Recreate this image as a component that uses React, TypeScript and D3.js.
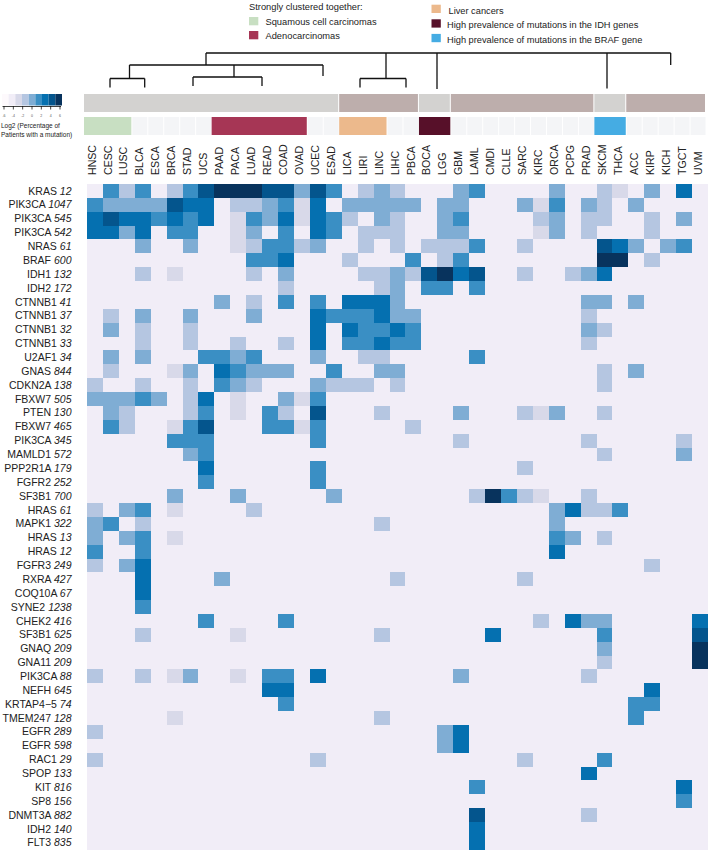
import React from "react";
import * as d3 from "d3";

const cancers = ["HNSC","CESC","LUSC","BLCA","ESCA","BRCA","STAD","UCS","PAAD","PACA","LUAD","READ","COAD","OVAD","UCEC","ESAD","LICA","LIRI","LINC","LIHC","PBCA","BOCA","LGG","GBM","LAML","CMDI","CLLE","SARC","KIRC","ORCA","PCPG","PRAD","SKCM","THCA","ACC","KIRP","KICH","TGCT","UVM"];

const genes = ["KRAS","PIK3CA","PIK3CA","PIK3CA","NRAS","BRAF","IDH1","IDH2","CTNNB1","CTNNB1","CTNNB1","CTNNB1","U2AF1","GNAS","CDKN2A","FBXW7","PTEN","FBXW7","PIK3CA","MAMLD1","PPP2R1A","FGFR2","SF3B1","HRAS","MAPK1","HRAS","HRAS","FGFR3","RXRA","COQ10A","SYNE2","CHEK2","SF3B1","GNAQ","GNA11","PIK3CA","NEFH","KRTAP4\u22125","TMEM247","EGFR","EGFR","RAC1","SPOP","KIT","SP8","DNMT3A","IDH2","FLT3"];
const codons = ["12","1047","545","542","61","600","132","172","41","37","32","33","34","844","138","505","130","465","345","572","179","252","700","61","322","13","12","249","427","67","1238","416","625","209","209","88","645","74","128","289","598","29","133","816","156","882","140","835"];

// Each row lists "column:level" for cells above the background level.
const rowLevels = [
  "1:4 2:2 3:4 5:2 6:4 7:6 8:7 9:7 10:7 11:6 12:6 13:3 14:6 15:4 17:2 18:3 19:2 23:3 24:4 29:3 32:2 33:1 35:3 37:5",
  "0:4 1:3 2:3 3:3 4:3 5:6 6:5 7:5 9:2 10:2 11:3 12:4 13:1 14:5 16:3 17:3 18:3 19:3 20:3 22:3 23:3 27:3 28:1 29:4 31:3 32:2 34:3",
  "0:5 1:6 2:5 3:5 4:4 5:5 6:4 7:5 9:1 10:4 11:3 12:5 13:1 14:5 15:4 16:2 18:3 19:2 22:3 23:4 28:2 29:3 31:2 32:2 35:2 37:3",
  "0:5 1:5 2:3 3:5 5:4 6:4 9:1 10:3 12:4 14:5 15:4 17:2 18:2 19:2 22:3 23:3 28:1 29:3 31:2 35:2",
  "3:3 6:3 9:1 10:2 11:4 12:4 13:2 14:3 17:2 19:2 21:2 22:2 23:2 24:4 27:2 32:6 33:5 34:3 36:3 37:4",
  "10:4 11:4 12:5 16:2 20:4 22:2 23:4 32:7 33:7 35:2",
  "3:2 5:1 10:2 12:3 17:2 18:2 19:3 20:2 21:6 22:7 23:5 24:6 27:2 30:2 31:3 32:5",
  "12:2 18:2 19:3 21:4 22:4 24:4",
  "8:3 10:2 12:4 14:4 16:5 17:5 18:5 19:3 31:3 32:3 34:3",
  "1:2 3:3 6:3 10:3 14:5 15:4 16:4 17:4 18:5 19:3 20:3 31:2",
  "1:3 3:2 6:2 14:5 16:5 17:4 18:4 19:5 20:4 31:3 32:2",
  "3:2 6:2 9:2 12:2 14:5 16:4 17:4 18:5 19:4 20:4 31:2",
  "1:3 3:3 7:4 8:4 9:3 10:4 14:3 17:2 18:2 24:4",
  "1:2 5:1 6:3 8:5 9:4 10:3 11:3 12:3 15:4 18:3 19:3 32:2 34:3",
  "0:2 3:2 6:2 8:4 9:3 10:2 14:3 15:2 16:2 17:2 19:2 32:2",
  "0:3 1:3 2:3 3:4 4:3 6:2 7:5 9:1 12:3 13:1 14:4",
  "1:3 2:2 6:2 7:4 9:1 11:4 12:2 14:6 18:2 23:3 27:2 28:1 29:3 32:2",
  "1:4 2:2 5:1 6:4 7:6 11:4 12:4 13:1 14:4 20:2",
  "5:4 6:4 7:4 14:4 23:2 31:2 37:2",
  "6:3 7:4 32:2 37:3",
  "7:5 14:4 27:2",
  "7:4 14:4",
  "5:3 9:3 15:3 24:2 25:7 26:4 27:2 28:1 31:2",
  "0:2 2:3 3:4 5:1 10:2 29:3 30:5 31:2 32:2 33:4",
  "0:3 1:4 3:2 18:2 29:3",
  "0:3 2:3 3:4 5:1 29:4 30:3 32:2",
  "0:4 3:4 29:5",
  "0:2 2:3 3:5 35:2",
  "3:5 8:3 19:2 27:2",
  "3:5",
  "3:4",
  "7:4 12:4 28:2 30:5 31:3 32:3 38:5",
  "3:2 9:1 18:2 25:5 32:4 38:6",
  "32:3 38:7",
  "32:2 38:7",
  "0:2 3:2 5:1 6:3 9:1 11:4 12:4 14:5 23:3 31:2",
  "11:5 12:5 35:5",
  "12:4 34:4 35:4",
  "5:1 18:2 34:4",
  "0:2 22:3 23:5",
  "22:3 23:5",
  "0:2 14:2 27:2 32:4",
  "31:5",
  "24:4 37:5",
  "37:4",
  "24:6 31:2",
  "24:5",
  "24:5",
];

const levelColors = ["#f1edf7","#d8d9e9","#b5c6e1","#7fadd4","#3a8fc4","#0570b0","#04558d","#08335d"];
const levelKeys = [0,1,2,3,4,5,6,7];
const legendSwatches = ["#fdf9fc","#f1edf7","#d8d9e9","#b5c6e1","#7fadd4","#3a8fc4","#0570b0","#04558d","#08335d"];
const legendTicks = ["-6","-4","-2","0","2","4","6"];

const clusterBands: [number, number, string][] = [[0,15,"#d3d2d0"],[16,20,"#bdaeac"],[21,22,"#d3d2d0"],[23,31,"#bdaeac"],[32,33,"#d3d2d0"],[34,38,"#bdaeac"]];
const typeBands: [number, number, string][] = [[0,2,"#c8dfc2"],[8,13,"#a63655"],[16,18,"#ecb98c"],[21,22,"#571029"],[32,33,"#45ace3"]];

const legendLeft = [["Squamous cell carcinomas","#c8dfc2"],["Adenocarcinomas","#a63655"]];
const legendRight = [["Liver cancers","#ecb98c"],["High prevalence of mutations in the IDH genes","#571029"],["High prevalence of mutations in the BRAF gene","#45ace3"]];

const font = "'Liberation Sans', Arial, sans-serif";
const textColor = "#222";

export default function App() {
  const idx = d3.range(cancers.length);
  const x = d3.scaleBand<number>().domain(idx).range([87, 708]);
  const xTop = d3.scaleBand<number>().domain(idx).range([84, 706]);
  const y = d3.scaleBand<number>().domain(d3.range(genes.length)).range([184, 849.8]);
  const color = d3.scaleOrdinal<number, string>().domain(levelKeys).range(levelColors);
  const legendX = d3.scaleBand<number>().domain(d3.range(legendSwatches.length)).range([2, 62]);
  const tickX = d3.scalePoint<number>().domain(d3.range(legendTicks.length)).range([4, 60]);

  const cells = rowLevels.flatMap((row, r) =>
    row.split(" ").map((s) => {
      const [c, l] = s.split(":").map(Number);
      return { r, c, l };
    })
  );

  const inType = (c: number) => typeBands.some(([a, b]) => c >= a && c <= b);

  const dendro = d3.path();
  const seg = (x1: number, y1: number, x2: number, y2: number) => { dendro.moveTo(x1, y1); dendro.lineTo(x2, y2); };
  seg(206, 53, 670.7, 53); seg(670.7, 53, 670.7, 65);
  seg(206, 53, 206, 65); seg(129.5, 65, 323, 65); seg(323, 65, 323, 76);
  seg(129.5, 65, 129.5, 78.5); seg(110, 78.5, 144.7, 78.5); seg(110, 78.5, 110, 87.5); seg(144.7, 78.5, 144.7, 87.5);
  seg(234, 65, 234, 77); seg(193, 77, 262, 77); seg(193, 77, 193, 86); seg(262, 77, 262, 86);
  seg(386, 53, 386, 78.5); seg(360, 78.5, 406, 78.5); seg(360, 78.5, 360, 87.5); seg(406, 78.5, 406, 87.5);
  seg(437, 53, 437, 89); seg(607, 53, 607, 88.5);

  return (
    <svg width={709} height={850} style={{ position: "absolute", left: 0, top: 0, background: "#fff" }} fontFamily={font}>
      <text x={249} y={9.5} fontSize={9.3} fill={textColor}>Strongly clustered together:</text>
      {legendLeft.map(([t, c], i) => (
        <g key={t}>
          <rect x={249} y={17 + i * 14} width={9.3} height={8.3} fill={c} />
          <text x={265.5} y={25 + i * 14} fontSize={9.3} fill={textColor}>{t}</text>
        </g>
      ))}
      {legendRight.map(([t, c], i) => (
        <g key={t}>
          <rect x={431.5} y={4.7 + i * 14.6} width={9.3} height={8.3} fill={c} />
          <text x={i === 0 ? 448.5 : 447} y={13.5 + i * 14.6} fontSize={9.25} fill={textColor}>{t}</text>
        </g>
      ))}

      <path d={dendro.toString()} fill="none" stroke="#111" strokeWidth={1.3} />

      {clusterBands.map(([a, b, c]) => (
        <rect key={a} x={xTop(a)!} y={94} width={xTop(b)! + xTop.bandwidth() - xTop(a)! - 1} height={18} fill={c} />
      ))}
      {typeBands.map(([a, b, c]) => (
        <rect key={a} x={xTop(a)!} y={117} width={xTop(b)! + xTop.bandwidth() - xTop(a)! - 0.5} height={18} fill={c} />
      ))}
      {idx.filter((c) => !inType(c)).map((c) => (
        <rect key={c} x={xTop(c)! + 0.5} y={117} width={xTop.bandwidth() - 1} height={18} fill="#f4f5f7" />
      ))}

      {cancers.map((c, i) => (
        <text key={c} transform={`translate(${xTop(i)! + xTop.bandwidth() / 2 + 3.6},175) rotate(-90)`} fontSize={10.6} fill={textColor}>{c}</text>
      ))}

      {genes.map((g, i) => (
        <text key={i} x={71.5} y={y(i)! + y.bandwidth() / 2 + 3.6} textAnchor="end" fontSize={10.5} fill={textColor}>
          {g} <tspan fontStyle="italic">{codons[i]}</tspan>
        </text>
      ))}

      <rect x={87} y={184} width={621} height={666} fill={levelColors[0]} />
      <g shapeRendering="crispEdges">
        {cells.map((d) => (
          <rect key={`${d.r}-${d.c}`} x={x(d.c)!} y={y(d.r)!} width={x.bandwidth()} height={y.bandwidth()} fill={color(d.l)} />
        ))}
      </g>

      {legendSwatches.map((c, i) => (
        <rect key={i} x={legendX(i)!} y={94} width={legendX.bandwidth()} height={11.5} fill={c} />
      ))}
      <line x1={2.5} x2={61} y1={106.5} y2={106.5} stroke="#111" strokeWidth={0.8} />
      {legendTicks.map((t, i) => (
        <g key={i}>
          <line x1={tickX(i)!} x2={tickX(i)!} y1={106} y2={109.5} stroke="#111" strokeWidth={0.8} />
          <text x={tickX(i)!} y={117} fontSize={3.5} textAnchor="middle" fill="#555">{t}</text>
        </g>
      ))}
      <text x={1} y={128} fontSize={6.5} fill={textColor}>Log2  (Percentage of</text>
      <text x={1} y={137} fontSize={6.5} fill={textColor}>Patients with a mutation)</text>
    </svg>
  );
}
